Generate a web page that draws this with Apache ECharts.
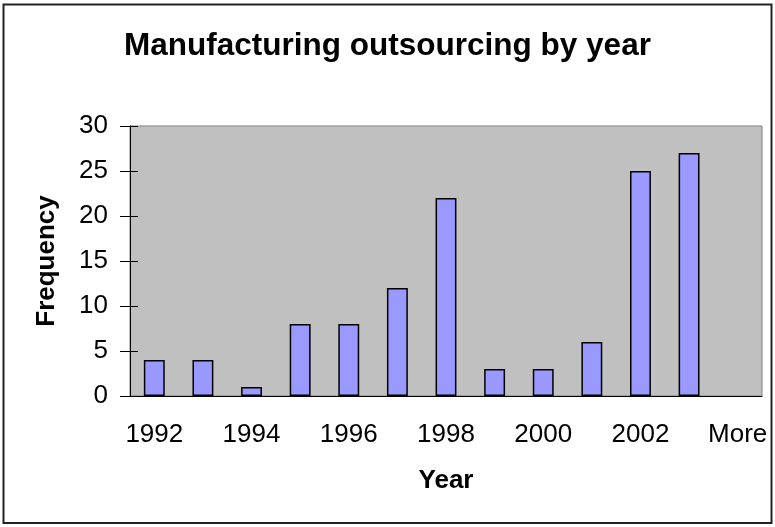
<!DOCTYPE html>
<html>
<head>
<meta charset="utf-8">
<script src="https://cdn.jsdelivr.net/npm/echarts@6/dist/echarts.min.js"></script>
<style>
  html, body { margin: 0; padding: 0; background: #fff; }
  #chart { width: 775px; height: 527px; }
</style>
</head>
<body>
<div id="chart"></div>
<script>
// Histogram data: outsourcing events per year
const years = ["1992", "1993", "1994", "1995", "1996", "1997", "1998",
               "1999", "2000", "2001", "2002", "2003", "More"];
const frequency = [4, 4, 1, 8, 8, 12, 22, 3, 3, 6, 25, 27, 0];
const yTicks = [0, 5, 10, 15, 20, 25, 30];

const font = "'Liberation Sans', Arial, sans-serif";
const chart = echarts.init(document.getElementById("chart"));

// zero-height bins draw nothing (no border line on the axis)
const barData = frequency.map((v) =>
  v === 0 ? { value: v, itemStyle: { borderWidth: 0, opacity: 0 } } : v
);

chart.setOption({
  animation: false,
  title: {
    text: "Manufacturing outsourcing by year",
    left: "center",
    top: 25,
    textStyle: { fontFamily: font, fontSize: 31.5, fontWeight: "bold", color: "#000" }
  },
  graphic: [
    {
      // chart-area frame
      type: "rect",
      shape: { x: 3.5, y: 4.5, width: 768, height: 518.5 },
      style: { fill: "none", stroke: "#222", lineWidth: 2 },
      z: 100
    }
  ],
  grid: {
    left: 130, right: 13, top: 126, bottom: 131,
    show: true, backgroundColor: "#C0C0C0", borderColor: "#808080", borderWidth: 1
  },
  xAxis: [
    {
      type: "category",
      data: years,
      name: "Year",
      nameLocation: "middle",
      nameGap: 72,
      nameTextStyle: { fontFamily: font, fontSize: 26, fontWeight: "bold", color: "#000" },
      axisLine: { lineStyle: { color: "#000", width: 1 } },
      axisTick: { interval: 0, length: 8, lineStyle: { color: "#000" } },
      axisLabel: { interval: 1, margin: 26, fontFamily: font, fontSize: 26, color: "#000" },
      splitLine: { show: false }
    },
    {
      // second copy for the inside half of the crossing ticks
      type: "category",
      data: years,
      position: "bottom",
      axisLine: { show: false },
      axisTick: { interval: 0, inside: true, length: 8, lineStyle: { color: "#000" } },
      axisLabel: { show: false },
      splitLine: { show: false }
    }
  ],
  yAxis: [
    {
      type: "value",
      min: 0, max: 30, interval: 5,
      name: "Frequency",
      nameLocation: "middle",
      nameGap: 70,
      nameRotate: 90,
      nameTextStyle: { fontFamily: font, fontSize: 26, fontWeight: "bold", color: "#000" },
      axisLine: { show: true, lineStyle: { color: "#000", width: 1 } },
      axisTick: { show: true, length: 10, lineStyle: { color: "#000" } },
      axisLabel: {
        margin: 22, fontFamily: font, fontSize: 26, color: "#000",
        formatter: (v) => (yTicks.includes(v) ? String(v) : "")
      },
      splitLine: { show: false }
    },
    {
      type: "value",
      min: 0, max: 30, interval: 5,
      position: "left",
      axisLine: { show: false },
      axisTick: { show: true, inside: true, length: 8, lineStyle: { color: "#000" } },
      axisLabel: { show: false },
      splitLine: { show: false }
    }
  ],
  series: [
    {
      type: "bar",
      data: barData,
      barWidth: "43%",
      itemStyle: { color: "#9999FF", borderColor: "#000", borderWidth: 1.5 }
    }
  ]
});
</script>
</body>
</html>
